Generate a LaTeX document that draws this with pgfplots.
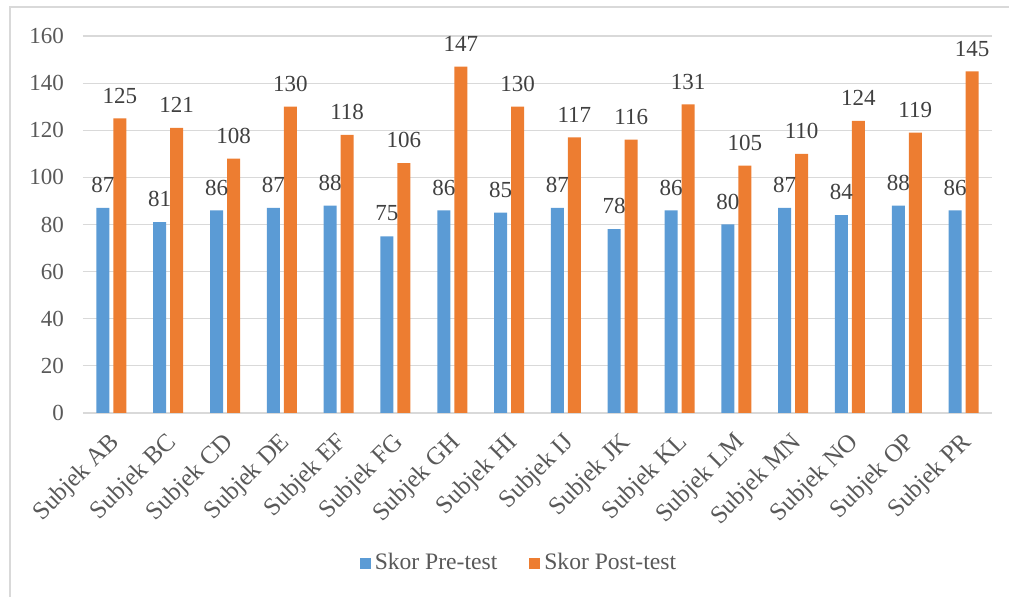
\documentclass[border=0pt]{standalone}
\usepackage{fontspec}
\setmainfont{Liberation Serif}
\usepackage{pgfplots}
\pgfplotsset{compat=1.18}
\definecolor{cblue}{HTML}{5B9BD5}
\definecolor{corange}{HTML}{ED7D31}
\definecolor{ctext}{HTML}{595959}
\definecolor{cgrid}{HTML}{D9D9D9}
\begin{document}
\begin{tikzpicture}
\path[use as bounding box] (0,0) rectangle (504.5pt,298.5pt);
\draw[cgrid, line width=1pt] (5pt,0) -- (5pt,295pt) -- (504.5pt,295pt);
\begin{axis}[
  at={(41.5pt,92pt)}, anchor=south west,
  scale only axis, width=454.5pt, height=188.5pt,
  ybar=2pt, bar width=6.5pt,
  xmin=-0.5, xmax=15.5, ymin=0, ymax=160,
  ytick={0,20,...,160},
  xtick={0,...,15},
  xticklabels={Subjek AB,Subjek BC,Subjek CD,Subjek DE,Subjek EF,Subjek FG,Subjek GH,Subjek HI,Subjek IJ,Subjek JK,Subjek KL,Subjek LM,Subjek MN,Subjek NO,Subjek OP,Subjek PR},
  major tick length=0pt,
  axis x line*=bottom, axis y line*=left,
  x axis line style={draw=cgrid, line width=0.8pt, -},
  y axis line style={draw=none},
  ymajorgrids, grid style={cgrid, line width=0.6pt},
  /pgf/number format/assume math mode=true,
  yticklabel style={font=\fontsize{11.5}{12}\selectfont, text=ctext, xshift=-6pt},
  xticklabel style={font=\fontsize{12.5}{13}\selectfont, text=ctext, xshift=-1.7pt, yshift=-4pt, rotate=45, anchor=north east},
  nodes near coords,
  every node near coord/.append style={font=\fontsize{11.5}{12}\selectfont, text=black!75, yshift=4pt},
  legend columns=2,
  legend style={draw=none, at={(0.4807,-0.398)}, anchor=center, font=\fontsize{11.8}{12}\selectfont, text=ctext, /tikz/every even column/.append style={column sep=14pt}},
  legend image code/.code={\fill[#1] (0pt,-2.75pt) rectangle (5.5pt,2.75pt);},
]
\addplot[fill=cblue, draw=none] coordinates {(0,87) (1,81) (2,86) (3,87) (4,88) (5,75) (6,86) (7,85) (8,87) (9,78) (10,86) (11,80) (12,87) (13,84) (14,88) (15,86)};
\addplot[fill=corange, draw=none] coordinates {(0,125) (1,121) (2,108) (3,130) (4,118) (5,106) (6,147) (7,130) (8,117) (9,116) (10,131) (11,105) (12,110) (13,124) (14,119) (15,145)};
\legend{Skor Pre-test, Skor Post-test}
\end{axis}
\end{tikzpicture}
\end{document}
